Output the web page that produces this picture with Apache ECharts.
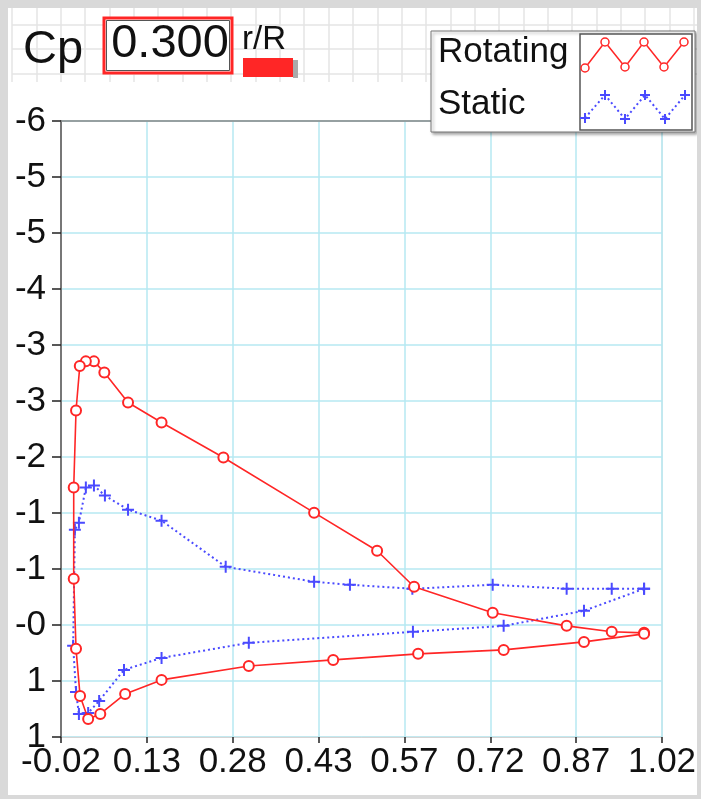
<!DOCTYPE html>
<html lang="en">
<head>
<meta charset="UTF-8">
<title>Cp r/R 0.300</title>
<script src="https://cdn.jsdelivr.net/npm/echarts@6/dist/echarts.min.js"></script>
<style>
  html, body { margin: 0; padding: 0; background: #fff; }
  #chart { width: 701px; height: 799px; }
</style>
</head>
<body>
<div id="chart"></div>
<script>
// x/c and Cp, going TE (upper) -> LE -> TE (lower)
var rotX  = [0.989, 0.933, 0.855, 0.727, 0.591, 0.527, 0.418, 0.261, 0.154, 0.096, 0.055, 0.037, 0.023, 0.0125, 0.006, 0.002, 0.002,
             0.006, 0.013, 0.027, 0.048, 0.091, 0.154, 0.305, 0.451, 0.598, 0.746, 0.885, 0.989];
var rotCp = [-0.059, -0.071, -0.14, -0.292, -0.594, -1.012, -1.454, -2.094, -2.501, -2.733, -3.082, -3.21, -3.21, -3.155, -2.64, -1.745, -0.687,
             0.127, 0.673, 0.941, 0.883, 0.65, 0.487, 0.325, 0.255, 0.185, 0.139, 0.046, -0.047];

var statX  = [0.989, 0.933, 0.855, 0.727, 0.588, 0.48, 0.418, 0.265, 0.154, 0.096, 0.056, 0.037, 0.023, 0.011, 0.004, 0.001,
              0.006, 0.011, 0.027, 0.046, 0.089, 0.154, 0.305, 0.589, 0.746, 0.885, 0.989];
var statCp = [-0.571, -0.571, -0.571, -0.617, -0.571, -0.617, -0.652, -0.826, -1.361, -1.489, -1.652, -1.768, -1.745, -1.338, -1.257, 0.092,
              0.627, 0.883, 0.871, 0.731, 0.371, 0.232, 0.057, -0.071, -0.14, -0.315, -0.571];

var xTickLabels = ['-0.02', '0.13', '0.28', '0.43', '0.57', '0.72', '0.87', '1.02'];
var yTickLabels = ['-6', '-5', '-5', '-4', '-3', '-3', '-2', '-1', '-1', '-0', '1', '1'];

function pairs(xs, ys) {
  var out = [];
  for (var i = 0; i < xs.length; i++) out.push([xs[i], ys[i]]);
  return out;
}

var RED = '#ff2626';
var BLUE = '#4a4aff';
var PLUS = 'path://M5,0h2v5h5v2h-5v5h-2v-5h-5v-2h5z';
var FONT = 'Liberation Sans, Arial, sans-serif';

// legend swatch zigzags
var swRed = [[585, 68], [605, 42], [625, 67], [644, 42], [664, 67], [684, 42]];
var swBlue = [[585, 118], [605, 95], [625, 119], [645, 95], [665, 119], [685, 95]];

var graphic = [
  // grey frame
  { type: 'rect', z: 200, shape: { x: 0, y: 0, width: 701, height: 8 }, style: { fill: '#d9d9d9' } },
  { type: 'rect', z: 200, shape: { x: 0, y: 0, width: 8, height: 799 }, style: { fill: '#d9d9d9' } },
  { type: 'rect', z: 200, shape: { x: 697, y: 0, width: 4, height: 799 }, style: { fill: '#d9d9d9' } },
  { type: 'rect', z: 200, shape: { x: 0, y: 795, width: 701, height: 4 }, style: { fill: '#d9d9d9' } },
  // header
  { type: 'text', z: 100, x: 23, y: 50, style: { text: 'Cp', font: '47px ' + FONT, fill: '#111', verticalAlign: 'middle' } },
  { type: 'rect', z: 100, shape: { x: 104, y: 18, width: 128, height: 55 }, style: { fill: '#fff', stroke: RED, lineWidth: 3 } },
  { type: 'rect', z: 100, shape: { x: 106.5, y: 20.5, width: 123, height: 50 }, style: { fill: 'none', stroke: '#555', lineWidth: 1 } },
  { type: 'text', z: 101, x: 170, y: 44, style: { text: '0.300', font: '47px ' + FONT, fill: '#111', align: 'center', verticalAlign: 'middle' } },
  { type: 'text', z: 100, x: 242, y: 40, style: { text: 'r/R', font: '33px ' + FONT, fill: '#111', verticalAlign: 'middle' } },
  { type: 'rect', z: 100, shape: { x: 293, y: 60, width: 5, height: 18 }, style: { fill: '#aaa' } },
  { type: 'rect', z: 101, shape: { x: 243, y: 58, width: 50, height: 19 }, style: { fill: RED } },
  // legend box
  { type: 'rect', z: 100, shape: { x: 431, y: 31, width: 264, height: 101 },
    style: { fill: '#fff', stroke: '#777', lineWidth: 1, shadowBlur: 3, shadowOffsetX: 2, shadowOffsetY: 2, shadowColor: 'rgba(0,0,0,0.35)' } },
  { type: 'rect', z: 101, shape: { x: 580, y: 34, width: 112, height: 96 }, style: { fill: '#fff', stroke: '#555', lineWidth: 1.5 } },
  { type: 'text', z: 101, x: 438, y: 52, style: { text: 'Rotating', font: '35px ' + FONT, fill: '#111', verticalAlign: 'middle' } },
  { type: 'text', z: 101, x: 438, y: 104, style: { text: 'Static', font: '35px ' + FONT, fill: '#111', verticalAlign: 'middle' } },
  { type: 'polyline', z: 102, shape: { points: swRed }, style: { fill: 'none', stroke: RED, lineWidth: 1.5 } },
  { type: 'polyline', z: 102, shape: { points: swBlue }, style: { fill: 'none', stroke: BLUE, lineWidth: 2, lineDash: [2, 3] } }
];
swRed.forEach(function (p) {
  graphic.push({ type: 'circle', z: 103, shape: { cx: p[0], cy: p[1], r: 4 }, style: { fill: '#fff', stroke: RED, lineWidth: 1.5 } });
});
swBlue.forEach(function (p) {
  graphic.push({ type: 'line', z: 103, shape: { x1: p[0] - 5, y1: p[1], x2: p[0] + 5, y2: p[1] }, style: { stroke: BLUE, lineWidth: 2 } });
  graphic.push({ type: 'line', z: 103, shape: { x1: p[0], y1: p[1] - 5, x2: p[0], y2: p[1] + 5 }, style: { stroke: BLUE, lineWidth: 2 } });
});

var chart = echarts.init(document.getElementById('chart'), null, { renderer: 'canvas' });

var option = {
  animation: false,
  grid: [
    { left: 61, top: 121, width: 601, height: 616, show: true, borderColor: '#d4d4d4', borderWidth: 1, backgroundColor: '#fff' },
    // graph-paper background of the header strip
    { left: 12, top: 0, width: 685, height: 82 }
  ],
  xAxis: [
    {
      type: 'value', gridIndex: 0, min: -0.02, max: 1.02, interval: 1.04 / 7,
      axisLine: { show: true, onZero: false, lineStyle: { color: '#d4d4d4', width: 1 } },
      axisTick: { show: true, length: 6, lineStyle: { color: '#222', width: 1.5 } },
      axisLabel: {
        margin: 8, color: '#111', fontSize: 35, fontFamily: FONT,
        formatter: function (v, i) { return xTickLabels[i]; }
      },
      splitLine: { show: true, lineStyle: { color: '#b6e9f2', width: 1.5 } }
    },
    {
      type: 'value', gridIndex: 0, position: 'top', min: -0.02, max: 1.02,
      axisLine: { show: true, onZero: false, lineStyle: { color: '#888', width: 1.5 } },
      axisTick: { show: false }, axisLabel: { show: false }, splitLine: { show: false }
    },
    {
      type: 'value', gridIndex: 1, min: 0, max: 685, interval: 24.35,
      axisLine: { show: false }, axisTick: { show: false }, axisLabel: { show: false },
      splitLine: { show: true, showMaxLine: false, lineStyle: { color: '#e4e4e4', width: 1.5 } }
    }
  ],
  yAxis: [
    {
      type: 'value', gridIndex: 0, inverse: true, min: -6, max: 1.15, interval: 0.65,
      axisLine: { show: true, onZero: false, lineStyle: { color: '#777', width: 2 } },
      axisTick: { show: true, length: 9, lineStyle: { color: '#222', width: 1.5 } },
      axisLabel: {
        margin: 15, color: '#111', fontSize: 35, fontFamily: FONT,
        formatter: function (v, i) { return yTickLabels[i]; }
      },
      splitLine: { show: true, lineStyle: { color: '#b6e9f2', width: 1.5 } }
    },
    {
      type: 'value', gridIndex: 1, inverse: true, min: 0, max: 82, interval: 24.5,
      axisLine: { show: false }, axisTick: { show: false }, axisLabel: { show: false },
      splitLine: { show: true, showMinLine: false, showMaxLine: false, lineStyle: { color: '#e4e4e4', width: 1.5 } }
    }
  ],
  series: [
    {
      name: 'Static', type: 'line', xAxisIndex: 0, yAxisIndex: 0,
      data: pairs(statX, statCp),
      symbol: PLUS, symbolSize: 12,
      itemStyle: { color: BLUE },
      lineStyle: { color: BLUE, width: 2, type: [2, 3] },
      z: 3
    },
    {
      name: 'Rotating', type: 'line', xAxisIndex: 0, yAxisIndex: 0,
      data: pairs(rotX, rotCp),
      symbol: 'emptyCircle', symbolSize: 10,
      itemStyle: { color: RED, borderWidth: 1.5 },
      lineStyle: { color: RED, width: 1.6 },
      z: 4
    }
  ],
  graphic: graphic
};

chart.setOption(option);
</script>
</body>
</html>
